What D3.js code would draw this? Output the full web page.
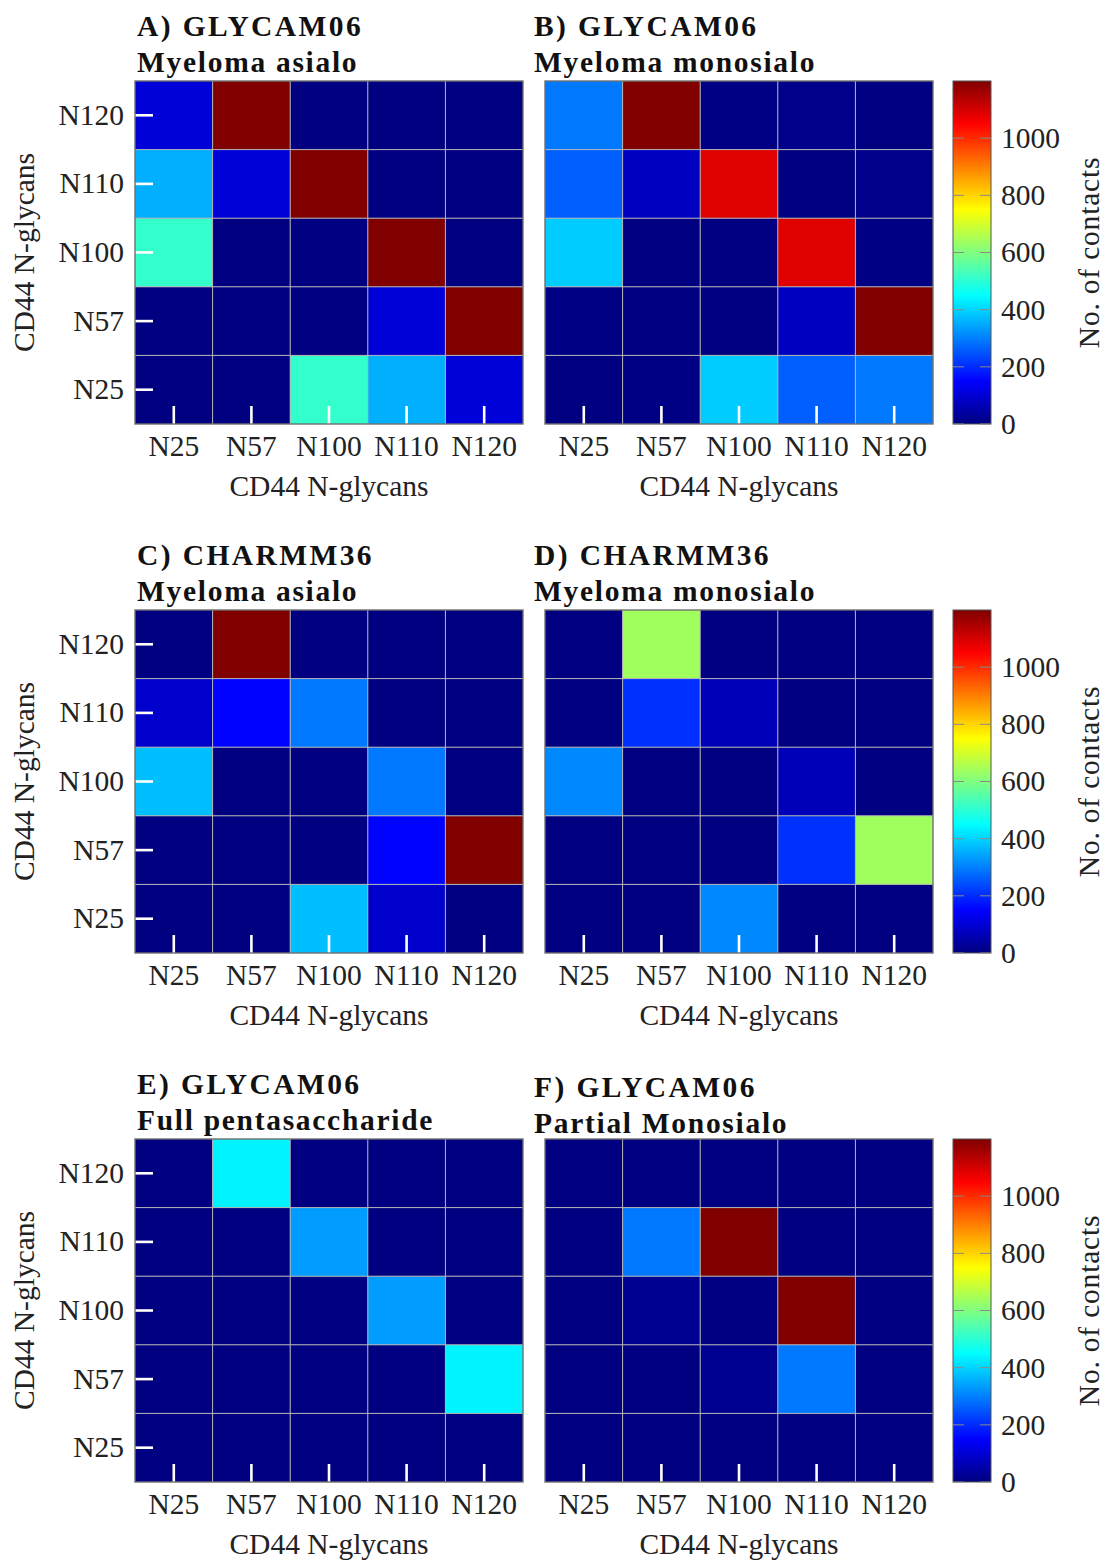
<!DOCTYPE html>
<html>
<head>
<meta charset="utf-8">
<script src="https://cdn.jsdelivr.net/npm/d3@7"></script>
<style>
  body { margin: 0; background: #fff; }
  text { font-family: "Liberation Serif", serif; fill: #222; }
</style>
</head>
<body>
<div id="chart"></div>
<script>
// glycan sites, same for both axes
var glycans = ["N25", "N57", "N100", "N110", "N120"];

// contact matrices, rows = y glycan (N25 first), cols = x glycan
var valuesA = [
  [0, 0, 510, 357, 104],
  [0, 0, 0, 104, 1250],
  [510, 0, 0, 1250, 0],
  [357, 104, 1250, 0, 0],
  [104, 1250, 0, 0, 0]
];
var valuesB = [
  [0, 5, 390, 263, 291],
  [5, 0, 0, 75, 1250],
  [390, 0, 0, 1087, 5],
  [263, 75, 1087, 0, 12],
  [291, 1250, 5, 12, 0]
];
var valuesC = [
  [0, 0, 375, 90, 0],
  [0, 0, 0, 152, 1250],
  [375, 0, 0, 291, 0],
  [90, 152, 291, 0, 0],
  [0, 1250, 0, 0, 0]
];
var valuesD = [
  [0, 0, 310, 0, 0],
  [0, 0, 0, 206, 638],
  [310, 0, 0, 66, 0],
  [0, 206, 66, 0, 0],
  [0, 638, 0, 0, 0]
];
var valuesE = [
  [0, 0, 0, 0, 0],
  [0, 0, 0, 0, 436],
  [0, 0, 0, 335, 0],
  [0, 0, 335, 0, 0],
  [0, 436, 0, 0, 0]
];
var valuesF = [
  [0, 0, 0, 0, 0],
  [0, 0, 20, 291, 0],
  [0, 20, 0, 1250, 0],
  [0, 291, 1250, 0, 0],
  [0, 0, 0, 0, 0]
];

var titles1 = ["A) GLYCAM06", "B) GLYCAM06", "C) CHARMM36", "D) CHARMM36", "E) GLYCAM06", "F) GLYCAM06"];
var titles2 = ["Myeloma asialo", "Myeloma monosialo", "Myeloma asialo", "Myeloma monosialo", "Full pentasaccharide", "Partial Monosialo"];
var matrices = [valuesA, valuesB, valuesC, valuesD, valuesE, valuesF];

var colorTicks = [0, 200, 400, 600, 800, 1000];
var colorMax = 1200;

// layout
var W = 1106, H = 1560;
var colX = [135, 545];
var rowY = [81, 610, 1139];
var pw = 388, ph = 343;
var titleX = [137, 534];
var cbX = 953, cbW = 38;
var fs = 29.5;

var svg = d3.select("#chart").append("svg")
  .attr("width", W)
  .attr("height", H);

// pgfplots style jet colormap
var jetStops = [0, 1 / 8, 3 / 8, 5 / 8, 7 / 8, 1];
var jetColors = ["#000080", "#0000ff", "#00ffff", "#ffff00", "#ff0000", "#800000"];
var color = d3.scaleLinear()
  .domain(jetStops.map(function (t) { return t * colorMax; }))
  .range(jetColors)
  .clamp(true);

var grad = svg.append("defs").append("linearGradient")
  .attr("id", "jet")
  .attr("x1", 0).attr("y1", 1).attr("x2", 0).attr("y2", 0);
grad.selectAll("stop")
  .data(jetStops)
  .enter().append("stop")
  .attr("offset", function (d) { return d; })
  .attr("stop-color", function (d, i) { return jetColors[i]; });

var x = d3.scaleBand().domain(glycans).range([0, pw]);
var y = d3.scaleBand().domain(glycans).range([ph, 0]);

matrices.forEach(function (m, p) {
  var col = p % 2, row = Math.floor(p / 2);
  var x0 = colX[col], y0 = rowY[row];
  var dy = (p === 5) ? 3 : 0;

  var g = svg.append("g")
    .attr("transform", "translate(" + x0 + "," + y0 + ")");

  // titles
  svg.append("text")
    .attr("x", titleX[col]).attr("y", y0 - 45 + dy)
    .style("font-size", fs + "px")
    .style("font-weight", "bold")
    .style("letter-spacing", "2.4px")
    .style("fill", "#111")
    .text(titles1[p]);
  svg.append("text")
    .attr("x", titleX[col]).attr("y", y0 - 9 + dy)
    .style("font-size", fs + "px")
    .style("font-weight", "bold")
    .style("letter-spacing", "1.7px")
    .style("fill", "#111")
    .text(titles2[p]);

  // cells
  var cells = [];
  m.forEach(function (r, i) {
    r.forEach(function (v, j) {
      cells.push({ yk: glycans[i], xk: glycans[j], v: v });
    });
  });
  g.selectAll("rect.cell")
    .data(cells)
    .enter().append("rect")
    .attr("class", "cell")
    .attr("x", function (d) { return x(d.xk); })
    .attr("y", function (d) { return y(d.yk); })
    .attr("width", x.bandwidth())
    .attr("height", y.bandwidth())
    .attr("fill", function (d) { return color(d.v); });

  // grid between cells
  g.selectAll("line.vg")
    .data(glycans.slice(1))
    .enter().append("line")
    .attr("x1", function (d) { return x(d); })
    .attr("x2", function (d) { return x(d); })
    .attr("y1", 0).attr("y2", ph)
    .attr("stroke", "#b4b4b4").attr("stroke-width", 1);
  g.selectAll("line.hg")
    .data(glycans.slice(1))
    .enter().append("line")
    .attr("y1", function (d) { return y(d) + y.bandwidth(); })
    .attr("y2", function (d) { return y(d) + y.bandwidth(); })
    .attr("x1", 0).attr("x2", pw)
    .attr("stroke", "#b4b4b4").attr("stroke-width", 1);

  // x axis, white ticks inside
  var xa = g.append("g")
    .attr("transform", "translate(0," + ph + ")")
    .call(d3.axisBottom(x).tickSize(-18).tickPadding(11));
  xa.select(".domain").remove();
  xa.selectAll("line").attr("stroke", "#fff").attr("stroke-width", 2.6);
  xa.selectAll("text").style("font-size", fs + "px").attr("fill", "#222")
    .style("font-family", "'Liberation Serif', serif");

  g.append("text")
    .attr("x", pw / 2).attr("y", ph + 72)
    .attr("text-anchor", "middle")
    .style("font-size", fs + "px")
    .text("CD44 N-glycans");

  if (col === 0) {
    var ya = g.append("g")
      .call(d3.axisLeft(y).tickSize(-18).tickPadding(11));
    ya.select(".domain").remove();
    ya.selectAll("line").attr("stroke", "#fff").attr("stroke-width", 2.6);
    ya.selectAll("text").style("font-size", fs + "px").attr("fill", "#222")
      .style("font-family", "'Liberation Serif', serif");

    svg.append("text")
      .attr("transform", "translate(34," + (y0 + ph / 2) + ") rotate(-90)")
      .attr("text-anchor", "middle")
      .style("font-size", fs + "px")
      .text("CD44 N-glycans");
  }

  // frame
  g.append("rect")
    .attr("width", pw).attr("height", ph)
    .attr("fill", "none")
    .attr("stroke", "#707070").attr("stroke-width", 1.4);

  // colorbar, one per row
  if (col === 1) {
    var cy = d3.scaleLinear().domain([0, colorMax]).range([y0 + ph, y0]);
    svg.append("rect")
      .attr("x", cbX).attr("y", y0)
      .attr("width", cbW).attr("height", ph)
      .attr("fill", "url(#jet)")
      .attr("stroke", "#555").attr("stroke-width", 1);

    svg.selectAll(null)
      .data(colorTicks)
      .enter().append("path")
      .attr("d", function (d) {
        var yy = cy(d);
        return "M" + cbX + "," + yy + "h11M" + (cbX + cbW) + "," + yy + "h-11";
      })
      .attr("stroke", "#888").attr("stroke-width", 1);

    var ca = svg.append("g")
      .attr("transform", "translate(" + (cbX + cbW) + ",0)")
      .call(d3.axisRight(cy).tickValues(colorTicks).tickFormat(d3.format("d"))
        .tickSize(0).tickPadding(10));
    ca.select(".domain").remove();
    ca.selectAll("text").style("font-size", fs + "px").attr("fill", "#222")
      .style("font-family", "'Liberation Serif', serif");

    svg.append("text")
      .attr("transform", "translate(1099," + (y0 + ph / 2) + ") rotate(-90)")
      .attr("text-anchor", "middle")
      .style("font-size", fs + "px")
      .style("letter-spacing", "0.8px")
      .text("No. of contacts");
  }
});
</script>
</body>
</html>
